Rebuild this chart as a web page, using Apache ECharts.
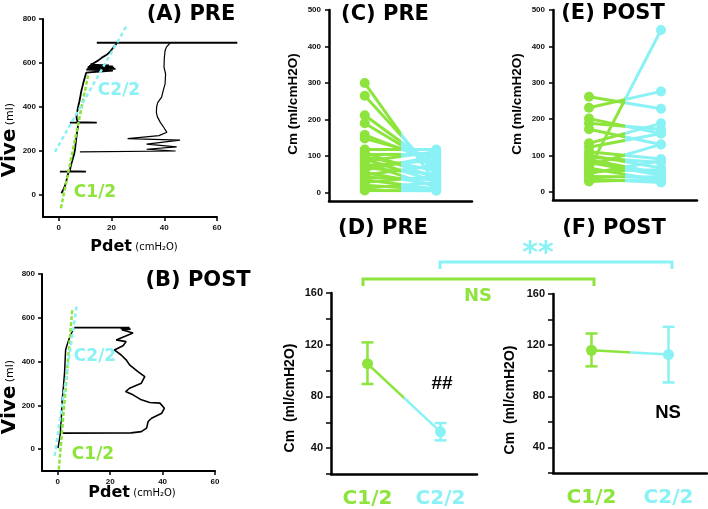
<!DOCTYPE html>
<html>
<head>
<meta charset="utf-8">
<script src="https://cdn.jsdelivr.net/npm/echarts@6/dist/echarts.min.js"></script>
<style>
  html, body { margin: 0; padding: 0; background: #fff; }
  #chart { width: 708px; height: 509px; }
</style>
</head>
<body>
<div id="chart"></div>
<script>
const GREEN = '#8de43c';
const CYAN = '#8af1f4';

// (A) PRE  -  [Pdet, Vive]
const fillA = [[1.0, 8], [1.6, 22], [2.3, 40], [2.9, 66], [3.4, 92], [3.8, 106], [0.4, 106], [10.3, 106], [4.1, 108],
  [4.6, 135], [5.2, 160], [5.8, 185], [6.1, 204], [6.4, 235], [6.7, 265], [7.0, 292], [7.3, 315], [7.4, 329],
  [4.2, 329], [14.4, 329], [7.2, 331], [6.8, 345], [6.7, 360], [7.0, 380], [7.3, 400], [7.8, 425], [8.2, 450],
  [8.6, 476], [9.0, 495], [9.4, 515], [10.0, 540], [10.4, 556], [10.6, 564], [20.5, 566], [10.4, 570],
  [21.5, 573], [10.8, 576], [21.0, 579], [11.0, 582], [20.5, 584], [11.5, 587], [19.0, 589], [12.0, 592],
  [13.0, 598], [15.0, 612], [16.8, 628], [18.0, 636], [19.4, 650], [20.5, 668], [21.9, 688]];
const topA = [[14.4, 692], [67.7, 692]];
const voidA = [[42.2, 690], [40.8, 672], [40.3, 656], [40.0, 620], [39.9, 581], [40.5, 550], [40.3, 505],
  [39.5, 470], [39.0, 445], [37.5, 420], [37.1, 400], [37.0, 375], [37.4, 355], [38.5, 330], [39.7, 309],
  [41.0, 285], [38.0, 270], [26.1, 256], [46.0, 249], [33.3, 231], [44.7, 219], [33.3, 208], [44.3, 200],
  [44.0, 196], [8.0, 196]];
const c1LineA = [[0.8, -60], [11.1, 543]];
const c2LineA = [[-1.5, 196], [25.7, 769]];

// (B) POST
const fillB = [[0.1, 4], [0.6, 40], [1.0, 73], [1.4, 150], [1.7, 225], [2.2, 290], [2.6, 347], [3.0, 452],
  [3.4, 470], [4.2, 499], [5.2, 528], [6.2, 552]];
const topB = [[6.2, 555], [27.4, 555], [24.0, 550], [27.8, 548], [24.5, 545]];
const voidB = [[24.5, 545], [28.7, 530], [25.5, 514], [22.3, 499], [26.1, 491], [24.9, 472], [21.6, 453],
  [24.2, 430], [26.1, 408], [27.4, 385], [30.6, 354], [33.2, 331], [31.9, 301], [27.4, 278], [25.9, 263],
  [28.7, 248], [31.9, 225], [35.1, 213], [39.0, 210], [40.7, 187], [39.7, 164], [35.8, 141], [34.5, 126],
  [33.9, 96], [31.9, 80], [28.0, 74], [1.7, 73]];
const c1LineB = [[0.4, -94], [5.6, 644]];
const c2LineB = [[-1.2, -31], [7.2, 651]];

// (C) PRE / (E) POST individual compliance, C1/2 -> C2/2
const c1Pre = [300, 265, 212, 190, 158, 148, 118, 110, 104, 98, 92, 86, 80, 74, 68, 62, 55, 48, 42, 35, 28, 20, 12, 6];
const c2Pre = [25, 51, 68, 72, 82, 95, 118, 40, 105, 60, 30, 112, 15, 88, 50, 100, 20, 75, 35, 10, 45, 8, 28, 5];
const c1Post = [261, 231, 201, 188, 172, 133, 122, 110, 100, 95, 88, 80, 72, 65, 62, 56, 50, 42, 35, 28];
const c2Post = [228, 276, 160, 172, 130, 188, 160, 90, 65, 80, 50, 45, 130, 30, 445, 60, 85, 40, 25, 35];

// (D) PRE / (F) POST means with error bars
const groups = ['C1/2', 'C2/2'];
const meanPre = [105.3, 52.6];
const lowPre = [89.6, 46];
const highPre = [121.8, 59.4];
const meanPost = [116, 112.6];
const lowPost = [103.4, 90.8];
const highPost = [129.1, 134.3];

const cmTicks = [0, 100, 200, 300, 400, 500];
const viveTicks = [0, 200, 400, 600, 800];
const pdetTicks = [0, 20, 40, 60];

const chart = echarts.init(document.getElementById('chart'));

const black = '#000';
const tickFont = { fontFamily: 'Liberation Sans', fontWeight: 'bold', color: '#111' };

function valAxis(grid, min, max, ticks, size, width, margin) {
  return {
    gridIndex: grid, type: 'value', min: min, max: max,
    axisLine: { show: true, onZero: false, lineStyle: { color: black, width: width } },
    axisTick: { show: true, length: 4, customValues: ticks, lineStyle: { color: black, width: 1.5 } },
    axisLabel: Object.assign({ customValues: ticks, fontSize: size, margin: margin }, tickFont),
    splitLine: { show: false }
  };
}

// same scale as grid 0 but running past 60, for the top line of (A) that overruns the axis
function hiddenAxis(grid, min, max) {
  return { gridIndex: grid, type: 'value', min: min, max: max, show: false, splitLine: { show: false } };
}

function catAxis(grid, showLabel) {
  return {
    gridIndex: grid, type: 'category', boundaryGap: true,
    data: [{ value: groups[0], textStyle: { color: GREEN } }, { value: groups[1], textStyle: { color: CYAN } }],
    axisLine: { show: true, onZero: false, lineStyle: { color: black, width: 2.5 } },
    axisTick: { show: false },
    axisLabel: { show: showLabel, fontSize: 20, fontWeight: 'bold', fontFamily: 'DejaVu Sans', margin: 15 },
    splitLine: { show: false }
  };
}

function meanAxis(grid) {
  return {
    gridIndex: grid, type: 'value', min: 20, max: 160, interval: 20,
    axisLine: { show: true, onZero: false, lineStyle: { color: black, width: 2.5 } },
    axisTick: { show: true, length: 5, lineStyle: { color: black, width: 1.5 } },
    axisLabel: Object.assign({ fontSize: 11, margin: 8, formatter: v => (v % 40 === 0 ? v : '') }, tickFont),
    splitLine: { show: false }
  };
}

const splitColor = {
  type: 'linear', x: 0, y: 0, x2: 1, y2: 0,
  colorStops: [
    { offset: 0, color: GREEN }, { offset: 0.5, color: GREEN },
    { offset: 0.5, color: CYAN }, { offset: 1, color: CYAN }
  ]
};

function trace(idx, data, width) {
  return {
    type: 'line', xAxisIndex: idx, yAxisIndex: idx, data: data,
    symbol: 'none', clip: false, silent: true,
    lineStyle: { color: black, width: width }
  };
}

function dashed(idx, data, color, dash) {
  return {
    type: 'line', xAxisIndex: idx, yAxisIndex: idx, data: data,
    symbol: 'none', clip: false, silent: true, z: 4,
    lineStyle: { color: color, width: 2.5, type: dash }
  };
}

function pair(idx, a, b, size, width) {
  return {
    type: 'line', xAxisIndex: idx, yAxisIndex: idx, silent: true,
    data: [{ value: a, itemStyle: { color: GREEN } }, { value: b, itemStyle: { color: CYAN } }],
    symbol: 'circle', symbolSize: size, showSymbol: true,
    lineStyle: { color: splitColor, width: width }
  };
}

function errBar(params, api) {
  const lo = api.coord([api.value(0), api.value(1)]);
  const hi = api.coord([api.value(0), api.value(2)]);
  const st = { stroke: api.value(0) === 0 ? GREEN : CYAN, lineWidth: 2.5 };
  return {
    type: 'group',
    children: [
      { type: 'line', shape: { x1: lo[0], y1: lo[1], x2: hi[0], y2: hi[1] }, style: st },
      { type: 'line', shape: { x1: hi[0] - 6, y1: hi[1], x2: hi[0] + 6, y2: hi[1] }, style: st },
      { type: 'line', shape: { x1: lo[0] - 6, y1: lo[1], x2: lo[0] + 6, y2: lo[1] }, style: st }
    ]
  };
}

function errSeries(idx, low, high) {
  return {
    type: 'custom', xAxisIndex: idx, yAxisIndex: idx, silent: true,
    renderItem: errBar, encode: { x: 0, y: [1, 2] },
    data: low.map((v, i) => [i, v, high[i]])
  };
}

function txt(x, y, text, size, color, family, rot) {
  return {
    type: 'text', x: x, y: y, rotation: rot || 0, silent: true,
    style: {
      text: text, fill: color, fontSize: size, fontWeight: 'bold', fontFamily: family,
      align: 'center', verticalAlign: 'middle', textAlign: 'center', textVerticalAlign: 'middle'
    }
  };
}

function richTxt(x, y, big, small, bigSize, smallSize, rot) {
  return {
    type: 'text', x: x, y: y, rotation: rot || 0, silent: true,
    style: {
      text: '{a|' + big + '} {b|' + small + '}', align: 'center', verticalAlign: 'middle',
      rich: { a: { fontSize: bigSize, fontWeight: 'bold', fontFamily: TITLE, fill: black },
              b: { fontSize: smallSize, fontFamily: TITLE, fill: black } }
    }
  };
}

function bracket(pts, color) {
  return { type: 'polyline', silent: true, shape: { points: pts }, style: { stroke: color, lineWidth: 3, fill: null } };
}

const TITLE = 'DejaVu Sans';
const ARIAL = 'Liberation Sans';

const series = [
  trace(0, fillA, 1.8), trace(6, topA, 1.8), trace(0, voidA, 1.2),
  dashed(0, c1LineA, GREEN, [4, 2]), dashed(0, c2LineA, CYAN, [4, 3]),
  trace(1, fillB, 1.5), trace(1, topB, 1.8), trace(1, voidB, 1.6),
  dashed(1, c1LineB, GREEN, [4, 2]), dashed(1, c2LineB, CYAN, [4, 3])
];
c1Pre.forEach((v, i) => series.push(pair(2, v, c2Pre[i], 10, 3)));
c1Post.forEach((v, i) => series.push(pair(3, v, c2Post[i], 10, 3)));
series.push(pair(4, meanPre[0], meanPre[1], 11, 2.5), errSeries(4, lowPre, highPre));
series.push(pair(5, meanPost[0], meanPost[1], 11, 2.5), errSeries(5, lowPost, highPost));

chart.setOption({
  animation: false,
  grid: [
    { left: 43, top: 19, width: 174, height: 198 },
    { left: 42, top: 274, width: 173, height: 197 },
    { left: 329, top: 10, width: 143, height: 191 },
    { left: 553, top: 10, width: 144, height: 190 },
    { left: 331, top: 293, width: 146, height: 181 },
    { left: 553, top: 294, width: 154, height: 179 },
    { left: 43, top: 19, width: 174 * 74 / 66, height: 198 }
  ],
  xAxis: [
    valAxis(0, -6, 60, pdetTicks, 8, 2, 7),
    valAxis(1, -6, 60, pdetTicks, 8, 2, 7),
    catAxis(2, false), catAxis(3, false), catAxis(4, true), catAxis(5, true),
    hiddenAxis(6, -6, 68)
  ],
  yAxis: [
    valAxis(0, -100, 800, viveTicks, 8, 2, 7),
    valAxis(1, -100, 800, viveTicks, 8, 2, 7),
    valAxis(2, -23, 500, cmTicks, 8, 2.5, 8),
    valAxis(3, -23, 500, cmTicks, 8, 2.5, 8),
    meanAxis(4), meanAxis(5),
    hiddenAxis(6, -100, 800)
  ],
  series: series,
  graphic: [
    txt(191, 15, '(A) PRE', 21, black, TITLE),
    txt(198, 281, '(B) POST', 21, black, TITLE),
    txt(385, 15, '(C) PRE', 21, black, TITLE),
    txt(613, 14, '(E) POST', 21, black, TITLE),
    txt(383, 229, '(D) PRE', 21, black, TITLE),
    txt(614, 229, '(F) POST', 21, black, TITLE),
    txt(119, 91, 'C2/2', 17, CYAN, TITLE),
    txt(95, 193, 'C1/2', 17, GREEN, TITLE),
    txt(95, 357, 'C2/2', 17, CYAN, TITLE),
    txt(93, 455, 'C1/2', 17, GREEN, TITLE),
    richTxt(134, 247, 'Pdet', '(cmH₂O)', 16, 10),
    richTxt(132, 493, 'Pdet', '(cmH₂O)', 16, 10),
    richTxt(10, 140, 'Vive', '(ml)', 20, 11, Math.PI / 2),
    richTxt(10, 397, 'Vive', '(ml)', 20, 11, Math.PI / 2),
    txt(293, 104, 'Cm (ml/cmH2O)', 13.5, black, ARIAL, Math.PI / 2),
    txt(517, 104, 'Cm (ml/cmH2O)', 13.5, black, ARIAL, Math.PI / 2),
    txt(290, 398, 'Cm  (ml/cmH2O)', 14, black, ARIAL, Math.PI / 2),
    txt(510, 400, 'Cm  (ml/cmH2O)', 14, black, ARIAL, Math.PI / 2),
    bracket([[440, 269], [440, 262], [672, 262], [672, 269]], CYAN),
    bracket([[363, 286], [363, 279], [594, 279], [594, 286]], GREEN),
    txt(478, 296, 'NS', 18, GREEN, TITLE),
    txt(538, 254, '**', 30, CYAN, TITLE),
    txt(442, 384, '##', 19, black, ARIAL),
    txt(668, 413, 'NS', 18.5, black, ARIAL)
  ]
});
</script>
</body>
</html>
